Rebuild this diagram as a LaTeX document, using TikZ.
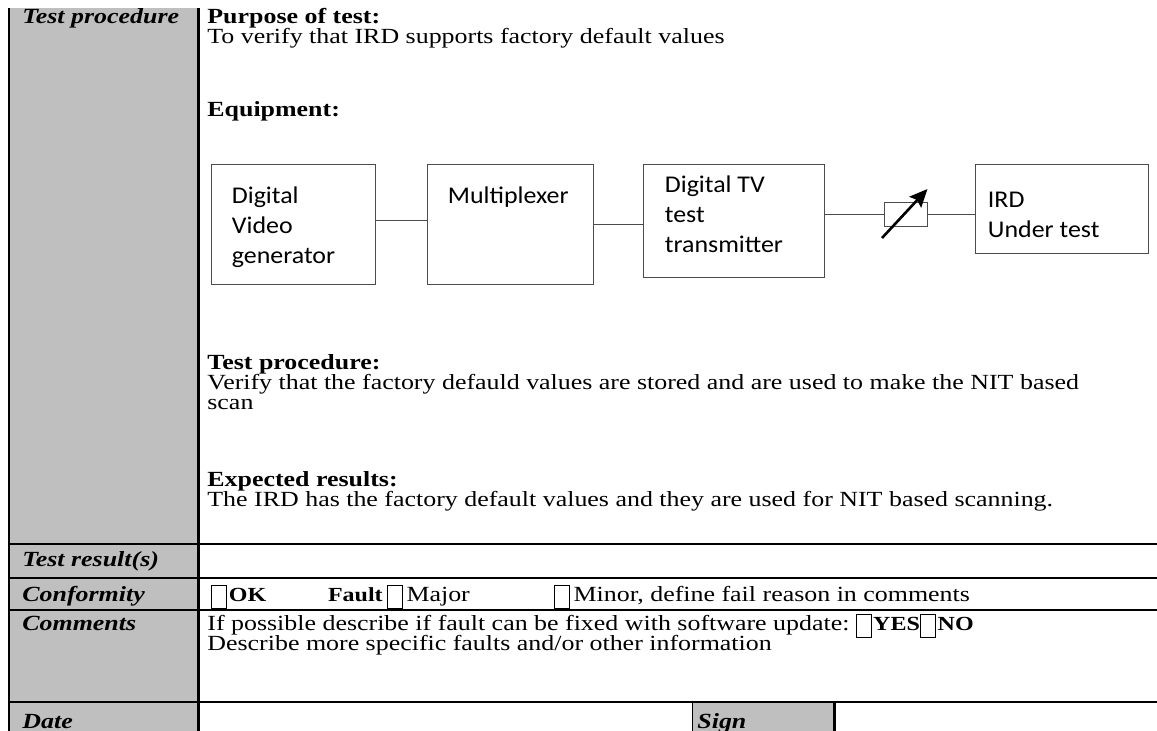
\documentclass[tikz,border=0pt]{standalone}
\usepackage{fontspec}
\setmainfont[FakeStretch=1.2]{Liberation Serif}
\newfontfamily\boxfont[FakeStretch=1.08]{Carlito}
\usetikzlibrary{arrows.meta,calc,positioning}
\tikzset{
form/.style={x=0.5pt,y=-0.5pt,font=\fontsize{10.8}{10}\selectfont},
rule/.style={line width=1.25pt},
shade/.style={fill=black!25},
hdr/.style={anchor=base west,inner sep=0pt,font=\fontsize{10.8}{10}\selectfont\bfseries\itshape},
txt/.style={anchor=base west,inner sep=0pt},
bold/.style={txt,font=\fontsize{10.8}{10}\selectfont\bfseries},
rowtxt/.style={inner sep=0pt,text height=7.5pt,text depth=2.5pt},
chk/.style={draw,line width=0.5pt,inner sep=0pt,minimum width=7.5pt,minimum height=11.5pt},
blk/.style={draw=black!70,line width=0.5pt,inner sep=0pt},
blktxt/.style={anchor=north west,inner sep=0pt,align=left,
font=\boxfont\fontsize{12}{15}\selectfont},
wire/.style={draw=black!70,line width=0.5pt},
att/.style={blk,minimum width=21.5pt,minimum height=12pt},
}
\begin{document}
\begin{tikzpicture}[form]
\useasboundingbox (0,0) rectangle (1157,731);
\fill[shade] (9,8) rectangle (197,731);
\fill[shade] (692,702) rectangle (834,731);
\draw[line width=1pt] (8.5,8) -- (8.5,731);
\draw[line width=1.5pt] (198.5,8) -- (198.5,731);
\foreach \y in {544,578,610,702}
  \draw[rule] (8,\y) -- (1157,\y);
\draw[line width=0.5pt] (692,702) -- (692,731);
\draw[line width=1.5pt] (834.5,702) -- (834.5,731);

\node[hdr] (tp) at (22,23.5) {Test procedure};
\node[hdr] (res) at (22,567) {Test result(s)};
\node[hdr] (conf) at (22,602) {Conformity};
\node[hdr] (comm) at (22,631) {Comments};
\node[hdr] (date) at (22,729) {Date};
\node[hdr] (sign) at (697,729) {Sign};

\node[bold] (purp) at (207,23.5) {Purpose of test:};
\node[txt] (purptxt) at (207,43.5) {To verify that IRD supports factory default values};
\node[bold] (equip) at (207,117) {Equipment:};
\node[bold] (proc) at (207,370) {Test procedure:};
\node[txt] (proc1) at (207,390) {Verify that the factory defauld values are stored and are used to make the NIT based};
\node[txt] (proc2) at (207,410) {scan};
\node[bold] (exp) at (207,487) {Expected results:};
\node[txt] (exptxt) at (207,507) {The IRD has the factory default values and they are used for NIT based scanning.};

\node[blk,minimum width=82pt,minimum height=60pt] (dvg) at (293,225) {};
\node[blk,minimum width=83pt,minimum height=60pt,right=25.5pt of dvg.north east,anchor=north west] (mux) {};
\node[blk,minimum width=90.5pt,minimum height=56.5pt,right=24.5pt of mux.north east,anchor=north west] (tx) {};
\node[blk,minimum width=86.5pt,minimum height=44.5pt,right=75pt of tx.north east,anchor=north west] (ird) {};
\node[att] (atn) at ($(tx.east)!0.54!(ird.west)+(0,-1)$) {};
\node[blktxt] (dvgtxt) at ($(dvg.north west)+(21,22)$) {Digital\\Video\\generator};
\node[blktxt] (muxtxt) at ($(mux.north west)+(21,22)$) {Multiplexer};
\node[blktxt] (txtxt) at ($(tx.north west)+(22,11)$) {Digital TV\\test\\transmitter};
\node[blktxt] (irdtxt) at ($(ird.north west)+(13,27.5)$) {IRD\\Under test};
\draw[wire] ($(dvg.east)+(0,-4)$) -- ($(mux.west)+(0,-4)$);
\draw[wire] (mux.east) -- (mux.east -| tx.west);
\draw[wire] (atn.west -| tx.east) -- (atn.west);
\draw[wire] (atn.east) -- (atn.east -| ird.west);
\coordinate (knobfrom) at ($(atn.center)+(-23.5,24)$);
\coordinate (knobto) at ($(atn.center)+(22,-25)$);
\draw[line width=1.3pt,-{Stealth[length=9pt,width=8pt,inset=1.5pt]}] (knobfrom) -- (knobto);

\node[chk] (okbox) at (218.5,597) {};
\node[rowtxt,font=\bfseries,right=1pt of okbox] (ok) {OK};
\node[rowtxt,font=\bfseries,right=30.5pt of ok] (fault) {Fault};
\node[chk,right=2pt of fault] (majbox) {};
\node[rowtxt,right=1.5pt of majbox] (major) {Major};
\node[chk,right=42pt of major] (minbox) {};
\node[rowtxt,right=1.5pt of minbox] (minor) {Minor, define fail reason in comments};

\node[rowtxt,anchor=base west] (upd) at (207,631) {If possible describe if fault can be fixed with software update:};
\node[chk,right=3pt of upd] (yesbox) {};
\node[rowtxt,font=\bfseries,right=0.5pt of yesbox] (yes) {YES};
\node[chk,right=0pt of yes] (nobox) {};
\node[rowtxt,font=\bfseries,right=0.5pt of nobox] (no) {NO};
\node[txt] (more) at (207,651) {Describe more specific faults and/or other information};
\end{tikzpicture}
\end{document}
